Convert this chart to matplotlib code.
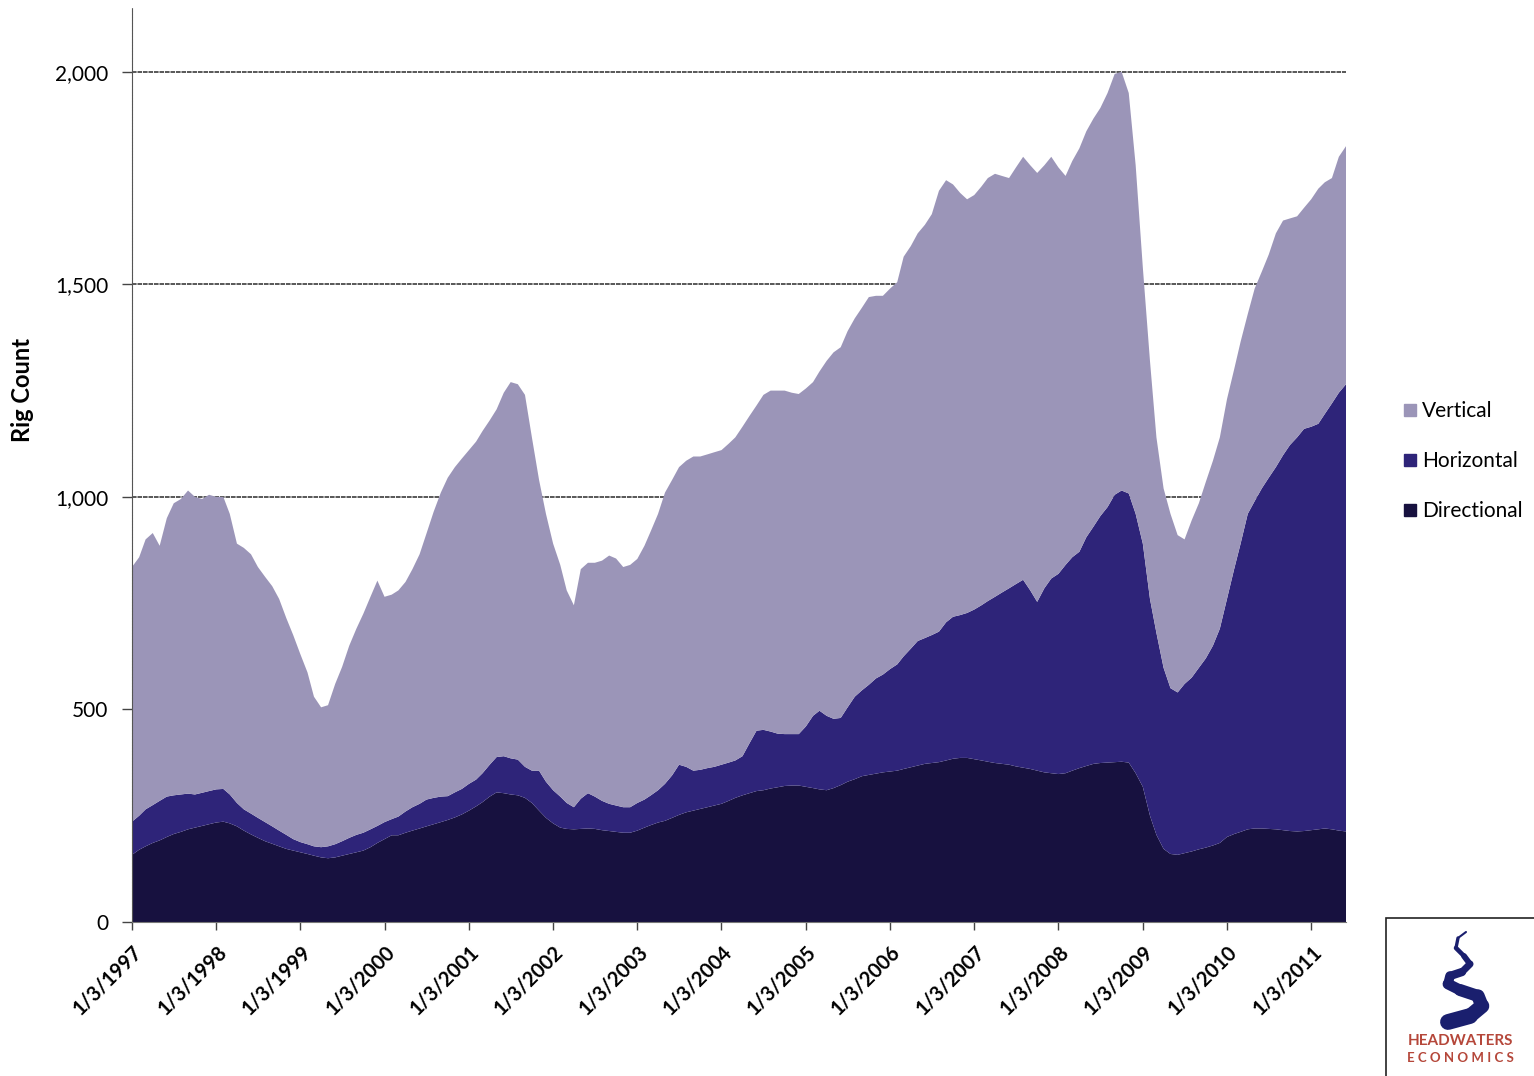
import matplotlib
matplotlib.use("Agg")
import matplotlib.pyplot as plt
from matplotlib.patches import Rectangle
from matplotlib.lines import Line2D
import pandas as pd

plt.rcParams['font.family'] = ['Lato', 'DejaVu Sans']

# Monthly rig counts by drilling type, Jan 1997 - Jun 2011
dates = pd.date_range('1997-01-01', periods=174, freq='MS') + pd.Timedelta(days=2)

directional = [
    158, 170, 178, 186, 192, 200, 207, 212, 218, 222, 226, 230,
    234, 236, 232, 225, 215, 206, 198, 190, 184, 178, 172, 168,
    164, 160, 156, 152, 150, 152, 156, 160, 164, 168, 176, 186,
    195, 204, 204, 210, 215, 220, 225, 230, 235, 240, 246, 253,
    262, 272, 282, 295, 305, 303, 300, 298, 292, 280, 262, 245,
    232, 222, 219, 218, 219, 220, 219, 216, 214, 212, 210, 210,
    215, 222, 228, 234, 238, 245, 252, 258, 262, 266, 270, 274,
    278, 285, 292, 298, 303, 308, 310, 314, 317, 320, 321, 321,
    318, 315, 312, 310, 315, 322, 330, 336, 343, 346, 349, 352,
    354, 356, 360, 364, 368, 372, 374, 376, 380, 384, 386, 386,
    383, 380, 377, 374, 372, 370, 366, 363, 360, 356, 352, 350,
    348, 350, 356, 362, 367, 372, 374, 375, 376, 377, 375, 350,
    318, 250, 205, 172, 160, 158, 162, 166, 171, 175, 180, 186,
    200, 207, 212, 218, 220, 220, 219, 218, 216, 214, 213, 214,
    216, 218, 220, 218, 215, 213,
]

horizontal = [
    78, 80, 87, 89, 93, 95, 91, 88, 84, 78, 78, 78,
    78, 77, 68, 55, 50, 49, 47, 45, 41, 37, 33, 27,
    24, 23, 22, 24, 28, 31, 34, 38, 41, 42, 42, 40,
    40, 38, 44, 50, 55, 58, 63, 62, 60, 56, 59, 60,
    63, 63, 68, 75, 83, 87, 85, 84, 73, 76, 94, 85,
    78, 73, 61, 52, 71, 83, 76, 69, 64, 62, 60, 60,
    65, 66, 70, 76, 87, 100, 118, 107, 94, 92, 92, 91,
    92, 90, 88, 92, 117, 142, 142, 134, 126, 122, 121, 121,
    142, 170, 185, 175, 163, 158, 175, 194, 202, 212, 224, 230,
    241, 250, 265, 279, 293, 296, 301, 307, 325, 334, 336, 341,
    352, 365, 378, 391, 403, 415, 429, 442, 420, 397, 433, 458,
    471, 490, 502, 509, 538, 558, 581, 601, 629, 638, 633, 610,
    572, 510, 475, 426, 390, 382, 398, 409, 427, 445, 470, 504,
    560, 623, 678, 742, 770, 800, 826, 852, 882, 908, 927, 946,
    949, 954, 975, 1002, 1030, 1052,
]

vertical = [
    599, 608, 635, 640, 600, 655, 687, 695, 713, 700, 691, 697,
    688, 687, 660, 610, 615, 610, 590, 577, 565, 545, 510, 480,
    442, 404, 352, 329, 332, 377, 410, 452, 485, 515, 547, 577,
    530, 528, 532, 540, 560, 587, 626, 673, 715, 749, 765, 777,
    785, 795, 805, 810, 818, 855, 885, 883, 875, 784, 684, 630,
    580, 545, 500, 475, 540, 542, 550, 565, 584, 581, 565, 570,
    574, 597, 622, 650, 685, 695, 700, 720, 739, 737, 738, 740,
    740, 750, 760, 775, 770, 765, 788, 802, 807, 808, 803, 800,
    795, 785, 798, 835, 862, 872, 885, 890, 900, 912, 900, 891,
    895, 899, 940, 947, 959, 972, 990, 1037, 1040, 1017, 993, 973,
    975, 985, 995, 995, 980, 965, 980, 995, 1000, 1009, 995, 992,
    956, 915, 932, 949, 955, 960, 960, 974, 990, 985, 942, 820,
    650, 560, 460, 422, 410, 370, 340, 370, 387, 415, 435, 450,
    470, 470, 475, 470, 500, 510, 525, 550, 552, 533, 520, 520,
    535, 553, 545, 530, 555, 560,
]

series_names = ['Directional', 'Horizontal', 'Vertical']
series_colors = ['#17113f', '#2e2479', '#9b95b8']
tick_years = list(range(1997, 2012))
y_ticks = [0, 500, 1000, 1500, 2000]

fig = plt.figure(figsize=(15.34, 10.76), dpi=100)
ax = fig.add_axes([132 / 1534, 1 - 922 / 1076, (1346 - 132) / 1534, (922 - 8) / 1076])

ax.stackplot(dates, directional, horizontal, vertical,
             colors=series_colors, linewidth=0, zorder=2)

ax.set_xlim(dates[0], dates[-1])
ax.set_ylim(0, 2150)

# horizontal gridlines sit behind the areas
for yv in y_ticks[1:]:
    ax.axhline(yv, color='#2a2a2a', lw=1.1, ls=(0, (3, 0.6)), zorder=1)

ax.set_yticks(y_ticks)
ax.set_yticklabels([f'{v:,}' for v in y_ticks], fontsize=15)
fig.text(22 / 1534, 1 - 390 / 1076, 'Rig Count', rotation=90, ha='center',
         va='center', fontsize=17, fontweight='bold')

xt = [pd.Timestamp(f'{y}-01-03') for y in tick_years]
ax.set_xticks(xt)
ax.set_xticklabels([f'1/3/{y}' for y in tick_years], rotation=45,
                   ha='right', rotation_mode='anchor', fontsize=14.5,
                   fontweight='bold')

ax.tick_params(axis='y', direction='out', length=7, width=1, color='#444444', pad=10)
ax.tick_params(axis='x', direction='out', length=6, width=1, color='#444444', pad=8)

for side in ['top', 'right']:
    ax.spines[side].set_visible(False)
ax.spines['left'].set_color('#555555')
ax.spines['left'].set_linestyle((0, (2, 0.8)))
ax.spines['bottom'].set_color('#777777')
ax.set_facecolor('white')

# legend to the right of the plot
handles = [Line2D([0], [0], marker='s', ls='none', markersize=9,
                  markerfacecolor=c, markeredgecolor=c)
           for c in series_colors[::-1]]
fig.legend(handles, series_names[::-1], loc='center left',
           bbox_to_anchor=(1400 / 1534, 1 - 461 / 1076), frameon=False,
           fontsize=15, handletextpad=0.05, labelspacing=1.45,
           handlelength=1.0, borderaxespad=0, borderpad=0)

# publisher logo in the lower right corner
fig.patches.append(Rectangle((1386 / 1534, -0.01), 0.2, (1076 - 918) / 1076 + 0.01,
                             transform=fig.transFigure, facecolor='white',
                             edgecolor='#222222', lw=1.2, zorder=5))
lax = fig.add_axes([1386 / 1534, 0, 148 / 1534, 158 / 1076], zorder=6)
lax.set_xlim(0, 148)
lax.set_ylim(158, 0)
lax.axis('off')
sq_x = [80, 72, 70, 78, 84, 76, 64, 62, 74, 92, 96, 84, 62]
sq_y = [14, 20, 30, 38, 46, 54, 58, 66, 72, 78, 88, 98, 104]
for i in range(len(sq_x) - 1):
    lax.plot(sq_x[i:i + 2], sq_y[i:i + 2], color='#1a1f6e',
             lw=1.5 + i * 0.9, solid_capstyle='round')
lax.text(74, 123, 'HEADWATERS', ha='center', va='center', fontsize=11,
         fontweight='bold', color='#b5473a')
lax.text(74, 140, 'E C O N O M I C S', ha='center', va='center', fontsize=9.5,
         fontweight='bold', color='#b5473a')

fig.savefig('out.png', dpi=100, facecolor='white')
